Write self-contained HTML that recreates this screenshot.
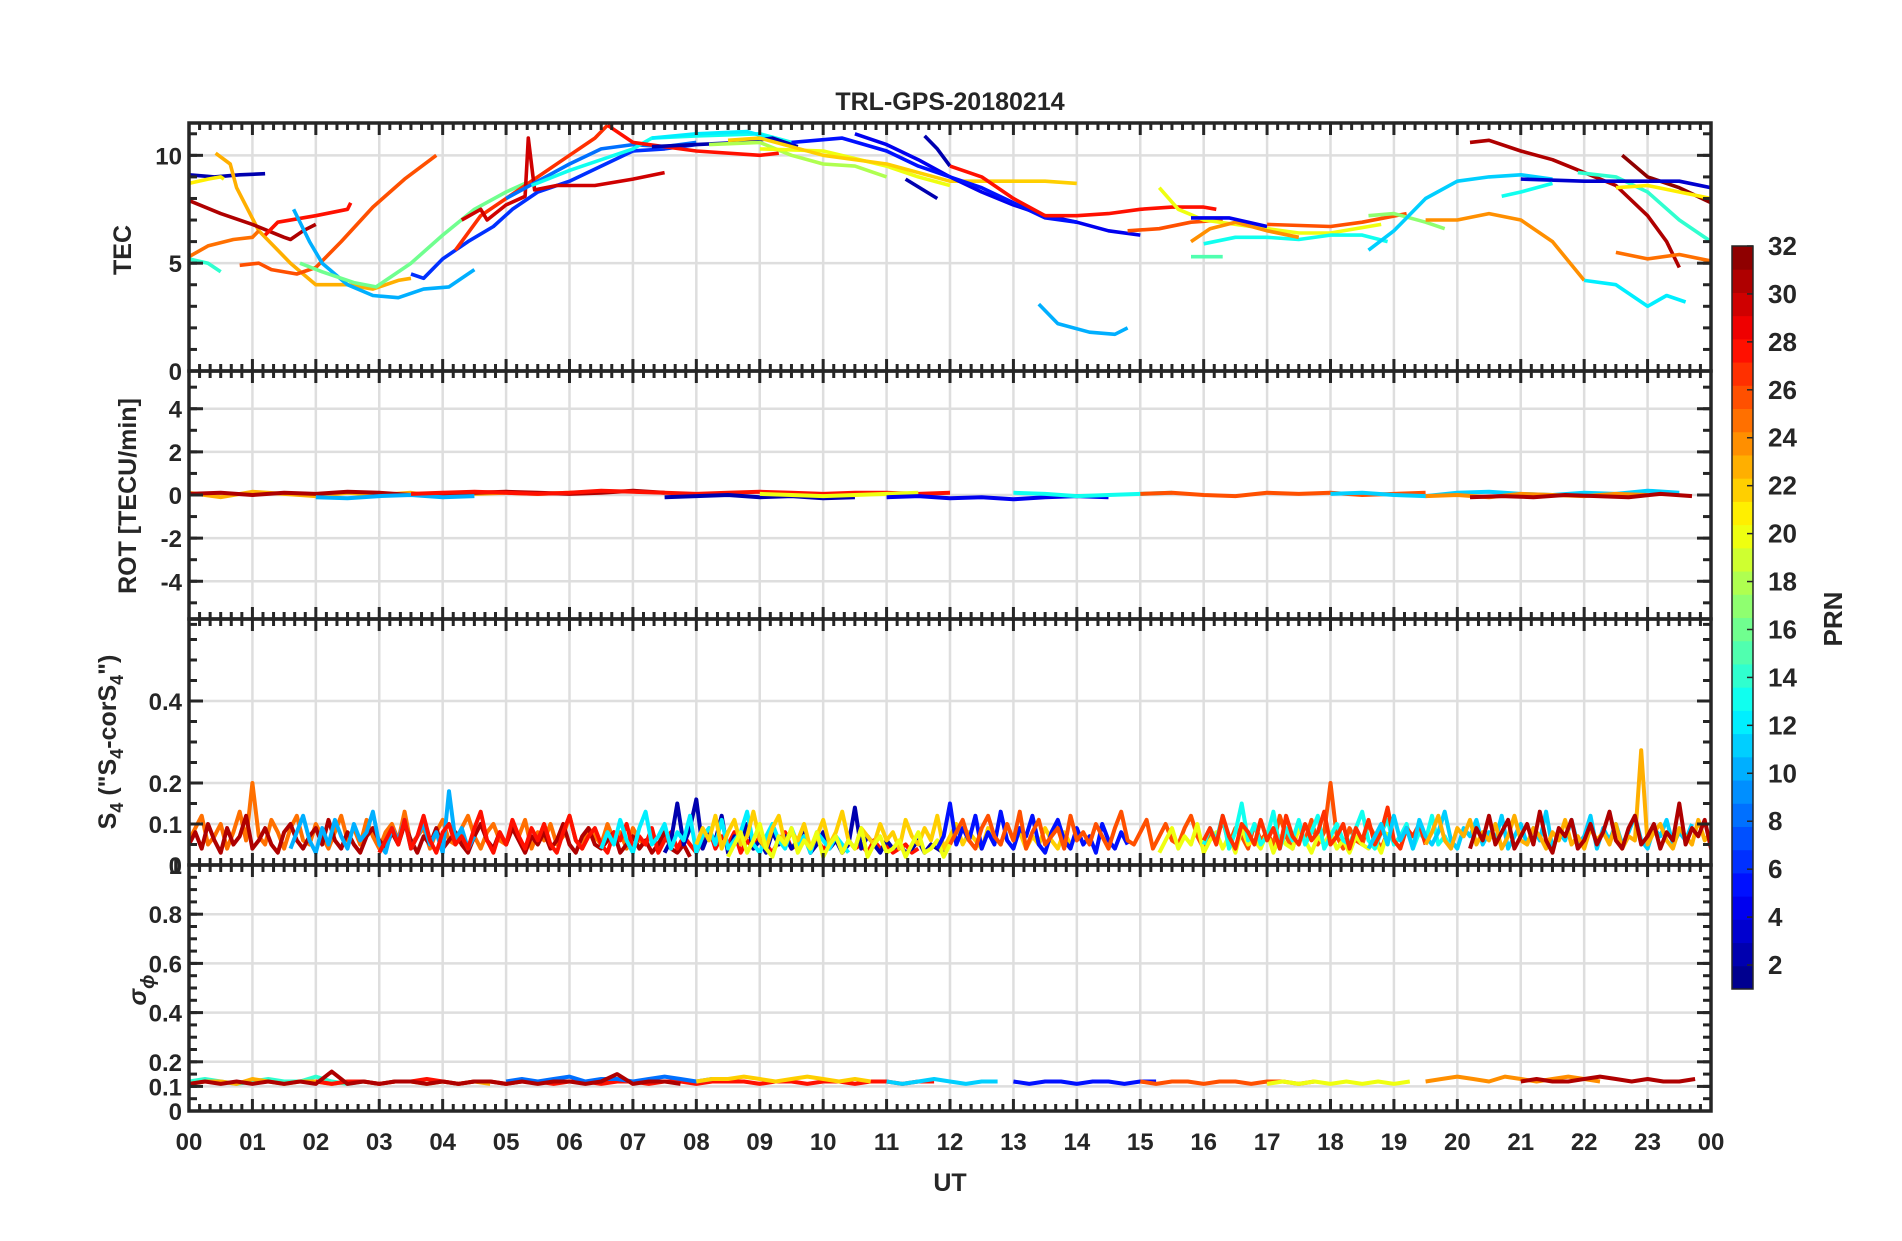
<!DOCTYPE html>
<html><head><meta charset="utf-8"><title>TRL-GPS-20180214</title>
<style>
html,body{margin:0;padding:0;background:#fff;}
svg text{font-family:"Liberation Sans",Arial,sans-serif;font-weight:bold;fill:#262626;}
</style></head>
<body>
<svg id="chart" width="1902" height="1236" viewBox="0 0 1902 1236" xmlns="http://www.w3.org/2000/svg">
<rect x="0" y="0" width="1902" height="1236" fill="#fff"/>
<text x="950" y="110" font-size="25" text-anchor="middle">TRL-GPS-20180214</text>
<g id="grid"></g><g id="marks"></g><g id="axes"></g>
<text transform="translate(131,250) rotate(-90)" font-size="25" text-anchor="middle">TEC</text>
<text transform="translate(136,496) rotate(-90)" font-size="25" text-anchor="middle">ROT [TECU/min]</text>
<text transform="translate(116,742) rotate(-90)" font-size="25" text-anchor="middle">S<tspan font-size="18" dy="7">4</tspan><tspan dy="-7"> ("S</tspan><tspan font-size="18" dy="7">4</tspan><tspan dy="-7">-corS</tspan><tspan font-size="18" dy="7">4</tspan><tspan dy="-7">")</tspan></text>
<text transform="translate(146,990) rotate(-90)" font-size="25" text-anchor="middle" font-style="italic" font-weight="normal">σ<tspan font-size="19" dy="8">ϕ</tspan></text>
<text x="950" y="1191" font-size="25" text-anchor="middle">UT</text>
<g id="cbar"></g>
<text transform="translate(1842,619) rotate(-90)" font-size="26" text-anchor="middle">PRN</text>
</svg>
<script>
// ---------- data ----------
const xTickLabels = ["00","01","02","03","04","05","06","07","08","09","10","11","12","13","14","15","16","17","18","19","20","21","22","23","00"];
const tecTickLabels = [0,5,10];
const rotTickLabels = [-4,-2,0,2,4];
const s4TickLabels = [0,0.1,0.2,0.4];
const sigTickLabels = [0,0.1,0.2,0.4,0.6,0.8,1];
const cbarTickLabels = [2,4,6,8,10,12,14,16,18,20,22,24,26,28,30,32];

const tecPrn = [2,21,23,31,28,25,14,26,10,16,6,27,30,8,13,12,28,2,18,20,22,4,5,2,2,28,10,26,20,15,13,24,4,26,17,11,31,24,12,14,25,32,3,21,13];
const tecTracks = [
[[0,9.1],[0.4,9.0],[0.8,9.1],[1.2,9.15]],
[[0,8.7],[0.3,8.9],[0.5,9.0],[0.55,8.9]],
[[0.42,10.1],[0.65,9.6],[0.75,8.5],[1.1,6.5],[1.6,5.0],[1.8,4.5],[2.0,4.0],[2.5,4.0],[2.9,3.8],[3.3,4.2],[3.5,4.3]],
[[0,7.9],[0.5,7.3],[1.0,6.8],[1.5,6.2],[1.6,6.1],[1.8,6.5],[2.0,6.8]],
[[1.2,6.3],[1.4,6.9],[2.0,7.2],[2.5,7.5],[2.55,7.8]],
[[0,5.3],[0.3,5.8],[0.7,6.1],[1.0,6.2],[1.1,6.5]],
[[0,5.2],[0.3,5.0],[0.5,4.6]],
[[0.8,4.9],[1.1,5.0],[1.3,4.7],[1.7,4.5],[2.0,4.8],[2.4,6.0],[2.9,7.6],[3.4,8.9],[3.9,10.0]],
[[1.65,7.5],[1.9,6.0],[2.1,5.0],[2.5,4.0],[2.9,3.5],[3.3,3.4],[3.7,3.8],[4.1,3.9],[4.5,4.7]],
[[1.75,5.0],[2.1,4.6],[2.6,4.1],[2.95,3.9],[3.5,5.0],[4.0,6.3],[4.5,7.5],[5.0,8.3],[5.3,8.7]],
[[3.5,4.5],[3.7,4.3],[4.0,5.2],[4.4,6.0],[4.8,6.7],[5.1,7.5],[5.5,8.3],[6.0,8.8],[6.5,9.5],[7.0,10.2],[7.5,10.3],[8,10.5]],
[[4.2,5.6],[4.6,7.2],[5.0,8.0],[5.5,9.0],[6.0,10.0],[6.4,10.8],[6.6,11.4]],
[[4.3,7.0],[4.6,7.5],[4.7,7.0],[5.0,7.7],[5.3,8.1],[5.35,10.8],[5.45,8.4],[5.8,8.6],[6.4,8.6],[7.0,8.9],[7.5,9.2]],
[[5.0,8.0],[5.5,8.8],[6.0,9.6],[6.5,10.3],[7.0,10.5],[7.5,10.4],[8.0,10.6]],
[[5.4,8.6],[6.0,9.3],[6.5,9.8],[7.0,10.3],[7.3,10.8],[8,10.9],[9,11.0],[9.5,10.6]],
[[7.3,10.8],[8.0,11.0],[8.8,11.1],[9.3,10.7]],
[[6.6,11.4],[7,10.6],[8,10.2],[9,10.0],[9.3,10.1]],
[[7.3,10.4],[8,10.5],[8.7,10.6],[9.2,10.8],[9.6,10.4]],
[[8.2,10.5],[9,10.6],[9.5,10.0],[10,9.6],[10.5,9.5],[11,9.0]],
[[9,10.3],[10,10.2],[11,9.5],[11.5,9.0],[12,8.6]],
[[8.5,10.7],[9,10.8],[10,10.0],[11,9.6],[12,8.8],[13,8.8],[13.5,8.8],[14,8.7]],
[[10.5,11.0],[11,10.5],[11.5,9.8],[12,9.0],[12.5,8.3],[13,7.7],[13.5,7.2],[14,6.9],[14.5,6.5],[15,6.3]],
[[9.5,10.6],[10.3,10.8],[11,10.2],[11.5,9.5],[12,9.0],[12.5,8.5],[13,7.8],[13.5,7.1],[14,6.9]],
[[11.6,10.9],[11.8,10.3],[12,9.5]],
[[11.3,8.9],[11.8,8.0]],
[[12,9.5],[12.5,9.0],[13,8.0],[13.5,7.2],[14,7.2],[14.5,7.3],[15,7.5],[15.5,7.6],[16,7.6],[16.2,7.5]],
[[13.4,3.1],[13.7,2.2],[14.2,1.8],[14.6,1.7],[14.8,2.0]],
[[14.8,6.5],[15.3,6.6],[15.8,6.9],[16.3,7.0]],
[[15.3,8.5],[15.6,7.5],[16,7.0],[16.5,6.8],[17,6.6],[17.5,6.4],[18,6.4],[18.8,6.8]],
[[15.8,5.3],[16.3,5.3]],
[[16,5.9],[16.5,6.2],[17,6.2],[17.5,6.1],[18,6.3],[18.5,6.3],[18.9,6.0]],
[[15.8,6.0],[16.1,6.6],[16.5,6.9],[17,6.5],[17.5,6.2]],
[[15.8,7.1],[16.4,7.1],[17,6.7]],
[[17,6.8],[18,6.7],[18.5,6.9],[19.2,7.3]],
[[18.6,7.2],[19,7.3],[19.5,6.9],[19.8,6.6]],
[[18.6,5.6],[19,6.5],[19.5,8.0],[20,8.8],[20.5,9.0],[21,9.1],[21.5,8.9]],
[[20.2,10.6],[20.5,10.7],[21,10.2],[21.5,9.8],[22,9.2],[22.5,8.6],[23,7.2],[23.3,6.0],[23.5,4.8]],
[[19.5,7.0],[20,7.0],[20.5,7.3],[21,7.0],[21.5,6.0],[22,4.2]],
[[22,4.2],[22.5,4.0],[23,3.0],[23.3,3.5],[23.6,3.2]],
[[21.9,9.2],[22.5,9.0],[23,8.3],[23.5,7.0],[24,6.0]],
[[22.5,5.5],[23,5.2],[23.5,5.4],[24,5.1]],
[[22.6,10.0],[23,9.0],[23.5,8.5],[24,7.8]],
[[21,8.9],[22,8.8],[23,8.8],[23.5,8.8],[24,8.5]],
[[22.5,8.5],[23,8.6],[24,8.0]],
[[20.7,8.1],[21,8.3],[21.5,8.7]]
];

const rotPrn = [23,31,10,28,2,20,4,13,26,11,24,31];
const rotStart = [0,0,2,3.5,7.5,9,11,13,15,18,19.5,20.2];
const rotValues = [
[0.1,-0.1,0.15,0.05,-0.05,0.1,0,0.1,-0.1,0.05,0.1,0.05,0.1,0.15],
[0.05,0.1,0,0.1,0.05,0.15,0.1,0,0.05,0.1,0.15,0.1,0.05,0.1,0.2,0.1],
[-0.1,-0.15,-0.05,0,-0.1,-0.05],
[0.05,0.1,0.15,0.1,0.05,0.1,0.2,0.15,0.1,0.05,0.1,0.15,0.1,0.05,0.1,0.1,0.05,0.1],
[-0.1,-0.05,0,-0.1,-0.05,-0.15,-0.1],
[0.05,0,-0.05,0,0.05,0.1],
[-0.1,-0.05,-0.15,-0.1,-0.2,-0.1,-0.05,-0.1],
[0.1,0.05,-0.05,0,0.05,0.1],
[0.05,0.1,0,-0.05,0.1,0.05,0.1,0,0.05,0.1],
[0.05,0.1,0,-0.05,0.1,0.15,0.05,0,0.1,0.05,0.2,0.1],
[-0.05,0,-0.1,0.05,0,-0.05,0.05,0],
[-0.1,-0.05,-0.1,0,-0.05,-0.1,0.05,-0.05]
];
const rotStep = 0.5;

const s4Prn = [25,31,10,28,2,12,22,20,5,26,20,13,27,11,23,31];
const s4Start = [0,0,1.6,3,7.5,6.5,8,8.5,11.8,12,15.3,16,16,18.6,19.5,20.2];
const s4Values = [
[0.06,0.09,0.12,0.05,0.07,0.10,0.04,0.08,0.13,0.06,0.20,0.07,0.05,0.11,0.08,0.04,0.09,0.12,0.06,0.05,0.10,0.07,0.04,0.08,0.12,0.06,0.09,0.05,0.11,0.07,0.04,0.08,0.10,0.06,0.13,0.05,0.07,0.09,0.04,0.08,0.11,0.06,0.05,0.09,0.12,0.07,0.04,0.08,0.10,0.06,0.05,0.09,0.07,0.11,0.04,0.08,0.06,0.10,0.05,0.07,0.12,0.06,0.04,0.09,0.07,0.05,0.10,0.06,0.08,0.04,0.09,0.06,0.05],
[0.05,0.08,0.04,0.10,0.06,0.03,0.09,0.05,0.07,0.12,0.04,0.06,0.09,0.05,0.03,0.08,0.10,0.06,0.04,0.07,0.09,0.05,0.11,0.06,0.04,0.08,0.05,0.03,0.07,0.09,0.06,0.04,0.08,0.05,0.10,0.06,0.03,0.07,0.05,0.09,0.04,0.06,0.08,0.05,0.03,0.07,0.10,0.06,0.04,0.08,0.05,0.09,0.06,0.03,0.07,0.05,0.08,0.04,0.06,0.10,0.05,0.03,0.07,0.09,0.05,0.04,0.06,0.08,0.03,0.05,0.07,0.04,0.06,0.03,0.05,0.08,0.04,0.03,0.05,0.02],
[0.04,0.08,0.12,0.06,0.03,0.09,0.05,0.11,0.07,0.04,0.10,0.06,0.08,0.13,0.05,0.03,0.09,0.06,0.11,0.04,0.07,0.10,0.05,0.08,0.03,0.18,0.06,0.09,0.04,0.07],
[0.03,0.06,0.09,0.05,0.11,0.04,0.07,0.12,0.06,0.03,0.08,0.10,0.05,0.07,0.04,0.09,0.13,0.06,0.03,0.08,0.05,0.11,0.07,0.04,0.09,0.06,0.10,0.05,0.03,0.08,0.12,0.06,0.04,0.07,0.09,0.05,0.03,0.08,0.06,0.10,0.04,0.07,0.05,0.09,0.03,0.06,0.08,0.04,0.07,0.05,0.03,0.06,0.09,0.04,0.07,0.05,0.08,0.03,0.06,0.04,0.07,0.05,0.03,0.06,0.08,0.04,0.05,0.07,0.03,0.06,0.04,0.05,0.07,0.03,0.06,0.04,0.05,0.03,0.06,0.04,0.05,0.03,0.04,0.05,0.03,0.04],
[0.03,0.06,0.15,0.05,0.09,0.16,0.04,0.08,0.06,0.12,0.03,0.07,0.05,0.10,0.04,0.06,0.03,0.08,0.05,0.07,0.04,0.06,0.09,0.03,0.05,0.08,0.04,0.06,0.03,0.05,0.14,0.04,0.07,0.05,0.03,0.06,0.04,0.05,0.03,0.04,0.06,0.03,0.05,0.04,0.03],
[0.04,0.08,0.05,0.11,0.06,0.03,0.09,0.13,0.05,0.07,0.10,0.04,0.08,0.06,0.12,0.03,0.07,0.09,0.05,0.11,0.04,0.06,0.08,0.13,0.05,0.03,0.07,0.10,0.06,0.04,0.09,0.05,0.07,0.03,0.08,0.06,0.04,0.07,0.05,0.03],
[0.05,0.09,0.06,0.12,0.04,0.08,0.11,0.05,0.07,0.13,0.06,0.04,0.09,0.12,0.05,0.08,0.06,0.10,0.04,0.07,0.11,0.05,0.08,0.13,0.06,0.04,0.09,0.07,0.05,0.10,0.06,0.08,0.04,0.11,0.07,0.05,0.09,0.06,0.12,0.04,0.07,0.10,0.05,0.08,0.06,0.04,0.09,0.07,0.05,0.10,0.06,0.08,0.04,0.07,0.05,0.09,0.06,0.04,0.08,0.05],
[0.02,0.05,0.08,0.03,0.06,0.10,0.04,0.02,0.07,0.05,0.09,0.03,0.06,0.04,0.08,0.02,0.05,0.07,0.03,0.06,0.04,0.09,0.02,0.05,0.07,0.03,0.04,0.06,0.02,0.05,0.08,0.03,0.04,0.06,0.02,0.05],
[0.04,0.07,0.15,0.05,0.09,0.06,0.12,0.04,0.08,0.05,0.13,0.06,0.04,0.09,0.07,0.12,0.05,0.03,0.08,0.11,0.06,0.04,0.09,0.05,0.07,0.03,0.10,0.06,0.04,0.08,0.05],
[0.05,0.08,0.11,0.06,0.04,0.09,0.12,0.07,0.05,0.10,0.06,0.13,0.04,0.08,0.11,0.05,0.07,0.09,0.04,0.12,0.06,0.08,0.05,0.10,0.07,0.04,0.09,0.13,0.06,0.05,0.08,0.11,0.04,0.07,0.10,0.06,0.05,0.09,0.12,0.07,0.04,0.08,0.06,0.11,0.05,0.09,0.07,0.04,0.10,0.06,0.08,0.05,0.12,0.07,0.04,0.09,0.06,0.11,0.05,0.08,0.20,0.07,0.04,0.09,0.06,0.05,0.10,0.07,0.04,0.08],
[0.03,0.06,0.09,0.04,0.07,0.05,0.10,0.03,0.06,0.08,0.04,0.07,0.03,0.09,0.05,0.06,0.04,0.08,0.03,0.07,0.05,0.04,0.09,0.06,0.03,0.07,0.05,0.08,0.04,0.06,0.03,0.07,0.05,0.04,0.06,0.03,0.08],
[0.05,0.09,0.06,0.12,0.04,0.08,0.15,0.06,0.10,0.05,0.07,0.13,0.04,0.09,0.06,0.11,0.05,0.08,0.12,0.04,0.07,0.10,0.06,0.05,0.09,0.13,0.06,0.04,0.08,0.11,0.05,0.07,0.10,0.04,0.08,0.06,0.12,0.05,0.07,0.04],
[0.06,0.09,0.05,0.12,0.07,0.04,0.10,0.08,0.05,0.11,0.06,0.09,0.04,0.12,0.07,0.05,0.10,0.06,0.08,0.13,0.05,0.07,0.10,0.04,0.09,0.06,0.11,0.05,0.08,0.14,0.06,0.04,0.09,0.07,0.10,0.05],
[0.04,0.07,0.10,0.05,0.12,0.06,0.09,0.04,0.11,0.07,0.05,0.08,0.13,0.06,0.04,0.09,0.07,0.11,0.05,0.08,0.06,0.12,0.04,0.07,0.10,0.05,0.09,0.06,0.13,0.04,0.08,0.06,0.11,0.05,0.07,0.12,0.04,0.09,0.06,0.10,0.05,0.08,0.12,0.06,0.04,0.09,0.07,0.11,0.05,0.08,0.06,0.10],
[0.05,0.08,0.12,0.06,0.04,0.09,0.07,0.11,0.05,0.08,0.06,0.10,0.04,0.07,0.12,0.06,0.05,0.09,0.07,0.04,0.08,0.06,0.11,0.05,0.07,0.04,0.09,0.06,0.08,0.05,0.10,0.04,0.07,0.06,0.28,0.05,0.08,0.10,0.06,0.04,0.09,0.07,0.05,0.11,0.06,0.08],
[0.04,0.09,0.06,0.12,0.05,0.08,0.11,0.04,0.07,0.10,0.05,0.13,0.06,0.03,0.09,0.07,0.11,0.04,0.06,0.10,0.05,0.08,0.13,0.06,0.04,0.09,0.12,0.05,0.07,0.10,0.04,0.08,0.06,0.15,0.05,0.09,0.07,0.11,0.04,0.06]
];
const s4Step = 0.1;

const sigPrn = [14,23,28,8,31,22,11,5,26,20,24,31];
const sigStart = [0,0,2,5,0,8,11,13,15,17,19.5,21];
const sigValues = [
[0.12,0.13,0.12,0.11,0.12,0.13,0.12,0.12,0.14,0.12,0.11,0.12],
[0.11,0.12,0.12,0.11,0.13,0.12,0.11,0.12,0.12,0.11,0.12,0.12,0.11,0.12,0.12,0.11,0.12,0.11,0.12,0.11],
[0.12,0.11,0.12,0.12,0.11,0.12,0.12,0.13,0.12,0.11,0.12,0.12,0.11,0.12,0.12,0.11,0.12,0.12,0.11,0.12,0.12,0.11,0.12,0.12,0.11,0.12,0.12,0.12,0.11,0.12,0.12,0.11,0.12,0.12,0.11,0.12,0.12,0.11,0.12,0.12],
[0.12,0.13,0.12,0.13,0.14,0.12,0.13,0.13,0.12,0.13,0.14,0.13,0.12,0.13],
[0.11,0.12,0.11,0.12,0.11,0.12,0.11,0.12,0.11,0.16,0.11,0.12,0.11,0.12,0.12,0.11,0.12,0.11,0.12,0.12,0.11,0.12,0.11,0.12,0.12,0.11,0.12,0.15,0.11,0.12,0.12,0.11],
[0.12,0.13,0.13,0.14,0.13,0.12,0.13,0.14,0.13,0.12,0.13,0.12],
[0.12,0.11,0.12,0.13,0.12,0.11,0.12,0.12],
[0.12,0.11,0.12,0.12,0.11,0.12,0.12,0.11,0.12,0.12],
[0.12,0.11,0.12,0.12,0.11,0.12,0.12,0.11,0.12,0.12,0.11,0.12],
[0.11,0.12,0.11,0.12,0.11,0.12,0.11,0.12,0.11,0.12],
[0.12,0.13,0.14,0.13,0.12,0.14,0.13,0.12,0.13,0.14,0.13,0.12],
[0.12,0.13,0.12,0.12,0.13,0.14,0.13,0.12,0.13,0.12,0.12,0.13]
];
const sigStep = 0.25;

// ---------- layout ----------
const NS = "http://www.w3.org/2000/svg";
const X0 = 189, X1 = 1711;
const panels = [
  {key:"tec", top:123, bot:371, min:0, max:11.5},
  {key:"rot", top:371, bot:619, min:-5.75, max:5.75},
  {key:"s4", top:619, bot:865, min:0, max:0.6},
  {key:"sig", top:865, bot:1111, min:0, max:1.0}
];
function xScale(h){ return X0 + h*(X1-X0)/24; }
function yScale(p,v){ return p.bot - (v-p.min)/(p.max-p.min)*(p.bot-p.top); }
function jet(p){
  const t=(p-0.5)/32; const c=v=>Math.max(0,Math.min(1,v));
  const r=c(1.5-Math.abs(4*t-3)), g=c(1.5-Math.abs(4*t-2)), b=c(1.5-Math.abs(4*t-1));
  return "rgb("+Math.round(r*255)+","+Math.round(g*255)+","+Math.round(b*255)+")";
}
function mk(tag, attrs, parent){
  const e=document.createElementNS(NS,tag);
  for(const k in attrs) e.setAttribute(k,attrs[k]);
  parent.appendChild(e); return e;
}
const gGrid=document.getElementById("grid"), gMarks=document.getElementById("marks"), gAxes=document.getElementById("axes"), gC=document.getElementById("cbar");
const svg=document.getElementById("chart");
const defs=mk("defs",{},svg);
panels.forEach(p=>{
  const cp=mk("clipPath",{id:"clip-"+p.key},defs);
  mk("rect",{x:X0,y:p.top,width:X1-X0,height:p.bot-p.top},cp);
});

// grid
const yGrid = {tec:[5,10], rot:[-4,-2,0,2,4], s4:[0.1,0.2,0.4], sig:[0.1,0.2,0.4,0.6,0.8]};
panels.forEach(p=>{
  for(let h=1;h<24;h++){
    const l=mk("line",{x1:xScale(h),x2:xScale(h),y1:p.top,y2:p.bot,stroke:"#dedede","stroke-width":2.5},gGrid);
    
    
  }
  yGrid[p.key].forEach(v=>{
    const l=mk("line",{x1:X0,x2:X1,y1:yScale(p,v),y2:yScale(p,v),stroke:"#dedede","stroke-width":2.5},gGrid);
    
    
  });
});

// TEC
const pT=panels[0];
tecTracks.forEach((tr,i)=>{
  const pts=tr.map(d=>xScale(d[0]).toFixed(1)+","+yScale(pT,d[1]).toFixed(1)).join(" ");
  const l=mk("polyline",{points:pts,fill:"none",stroke:jet(tecPrn[i]),"stroke-width":3.6,"stroke-linejoin":"round","clip-path":"url(#clip-tec)"},gMarks);
  
  
});
function series(p, prns, starts, vals, step, name, w){
  vals.forEach((arr,i)=>{
    const pts=arr.map((v,j)=>xScale(starts[i]+j*step).toFixed(1)+","+yScale(p,v).toFixed(1)).join(" ");
    const l=mk("polyline",{points:pts,fill:"none",stroke:jet(prns[i]),"stroke-width":w,"stroke-linejoin":"round","clip-path":"url(#clip-"+p.key+")"},gMarks);
    
    
  });
}
series(panels[1], rotPrn, rotStart, rotValues, rotStep, "rot", 4);
series(panels[2], s4Prn, s4Start, s4Values, s4Step, "s4", 4);
series(panels[3], sigPrn, sigStart, sigValues, sigStep, "sigma", 4);

// axes + ticks
const ink="#262626";
const yMinor = {tec:1, rot:1, s4:0.05, sig:0.05};
const yLabels = {tec:tecTickLabels, rot:rotTickLabels, s4:s4TickLabels, sig:sigTickLabels};
panels.forEach(p=>{
  const r=mk("rect",{x:X0,y:p.top,width:X1-X0,height:p.bot-p.top,fill:"none",stroke:ink,"stroke-width":3.5},gAxes);
  
  
  for(let m=0;m<=144;m++){
    const x=xScale(m/6), major=(m%6===0), len=major?12:7;
    mk("line",{x1:x,x2:x,y1:p.top,y2:p.top+len,stroke:ink,"stroke-width":3},gAxes);
    mk("line",{x1:x,x2:x,y1:p.bot,y2:p.bot-len,stroke:ink,"stroke-width":3},gAxes);
  }
  const st=yMinor[p.key];
  for(let v=p.min; v<=p.max+1e-9; v+=st){
    const vv=Math.round(v/st)*st; const y=yScale(p,vv);
    mk("line",{x1:X0,x2:X0+8,y1:y,y2:y,stroke:ink,"stroke-width":3},gAxes);
    mk("line",{x1:X1,x2:X1-8,y1:y,y2:y,stroke:ink,"stroke-width":3},gAxes);
  }
  yLabels[p.key].forEach(v=>{
    const y=yScale(p,v);
    mk("line",{x1:X0,x2:X0+14,y1:y,y2:y,stroke:ink,"stroke-width":3},gAxes);
    mk("line",{x1:X1,x2:X1-14,y1:y,y2:y,stroke:ink,"stroke-width":3},gAxes);
    const t=mk("text",{x:X0-7,y:y+9,"font-size":24,"text-anchor":"end"},gAxes);
    t.textContent=String(v);
    
    
  });
});
xTickLabels.forEach((s,i)=>{
  const t=mk("text",{x:xScale(i),y:1150,"font-size":24,"text-anchor":"middle"},gAxes);
  t.textContent=s;
  
  
});

// colorbar
const CB={x:1732,w:21,top:246,bot:989,min:1,max:32};
for(let k=0;k<32;k++){
  const h=(CB.bot-CB.top)/32;
  const r=mk("rect",{x:CB.x,y:CB.bot-(k+1)*h,width:CB.w,height:h+0.5,fill:jet(k+1)},gC);
  
  
}
const cbBox=mk("rect",{x:CB.x,y:CB.top,width:CB.w,height:CB.bot-CB.top,fill:"none",stroke:ink,"stroke-width":1.5},gC);


cbarTickLabels.forEach(v=>{
  const y=CB.bot-(v-CB.min)/(CB.max-CB.min)*(CB.bot-CB.top);
  mk("line",{x1:CB.x+CB.w-6,x2:CB.x+CB.w,y1:y,y2:y,stroke:ink,"stroke-width":1.5},gC);
  const t=mk("text",{x:1768,y:y+9,"font-size":26},gC);
  t.textContent=String(v);
  
  
});
</script>
</body></html>
